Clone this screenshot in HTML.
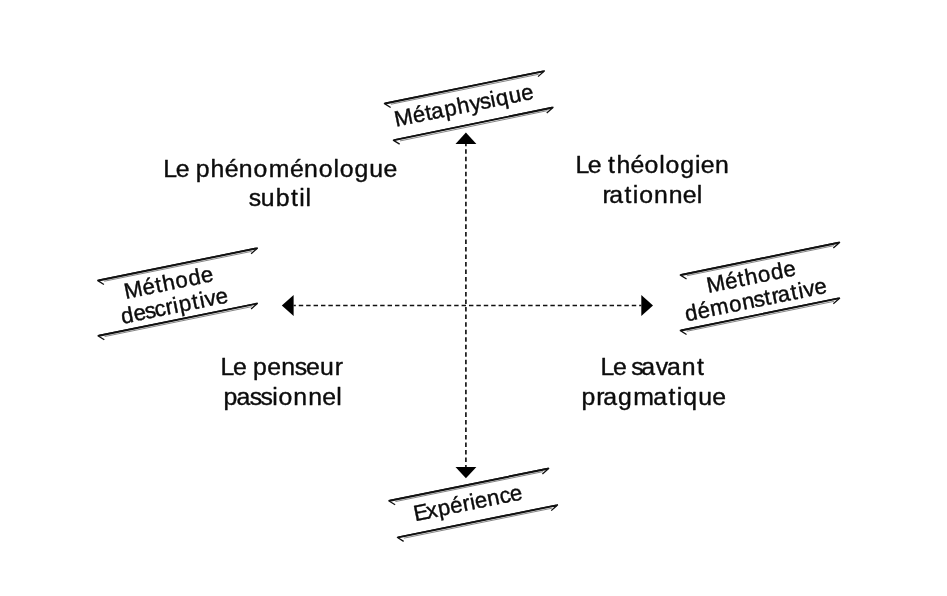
<!DOCTYPE html>
<html lang="fr">
<head>
<meta charset="utf-8">
<title>Diagramme</title>
<style>
html,body{margin:0;padding:0;background:#fff;}
body{width:947px;height:596px;overflow:hidden;}
svg{display:block;will-change:transform;filter:grayscale(1) blur(0.3px);}
text{font-family:"Liberation Sans",sans-serif;fill:#0c0c0c;stroke:#0c0c0c;stroke-width:0.4px;stroke-linejoin:round;}
</style>
</head>
<body>
<svg width="947" height="596" viewBox="0 0 947 596">
<rect width="947" height="596" fill="#ffffff"/>
<line x1="465.9" y1="143.9" x2="465.9" y2="467" stroke="#111" stroke-width="1.65" stroke-dasharray="4.51 3.01" stroke-dashoffset="2.25"/>
<line x1="293.6" y1="305.5" x2="641.3" y2="305.5" stroke="#111" stroke-width="1.65" stroke-dasharray="4.44 2.96" stroke-dashoffset="2.22"/>
<polygon points="465.9,132.4 455.5,143.9 476.4,143.9" fill="#000"/>
<polygon points="465.9,478.2 455.5,467 476.4,467" fill="#000"/>
<polygon points="281.8,305.5 293.6,294.9 293.6,316" fill="#000"/>
<polygon points="653,305.5 641.3,294.9 641.3,316" fill="#000"/>
<g><line x1="390.91" y1="104.26" x2="538.67" y2="74.25" stroke="#777" stroke-width="0.9"/><polyline points="390.64,107.48 384.1,103.4 544.6,70.8 538.03,76.62" fill="none" stroke="#111" stroke-width="1.3" stroke-linejoin="bevel"/><line x1="385.34" y1="103.46" x2="543.48" y2="71.33" stroke="#111" stroke-width="1.9"/></g>
<g><line x1="399.91" y1="140.95" x2="547.38" y2="110.66" stroke="#777" stroke-width="0.9"/><polyline points="399.65,144.17 393.1,140.1 553.3,107.2 546.74,113.04" fill="none" stroke="#111" stroke-width="1.3" stroke-linejoin="bevel"/><line x1="394.34" y1="140.15" x2="552.18" y2="107.74" stroke="#111" stroke-width="1.9"/></g>
<g><line x1="104.21" y1="281.26" x2="251.77" y2="251.35" stroke="#777" stroke-width="0.9"/><polyline points="103.94,284.48 97.4,280.4 257.7,247.9 251.13,253.72" fill="none" stroke="#111" stroke-width="1.3" stroke-linejoin="bevel"/><line x1="98.64" y1="280.46" x2="256.58" y2="248.43" stroke="#111" stroke-width="1.9"/></g>
<g><line x1="104.61" y1="336.56" x2="251.77" y2="306.65" stroke="#777" stroke-width="0.9"/><polyline points="104.34,339.78 97.8,335.7 257.7,303.2 251.13,309.03" fill="none" stroke="#111" stroke-width="1.3" stroke-linejoin="bevel"/><line x1="99.04" y1="335.75" x2="256.58" y2="303.73" stroke="#111" stroke-width="1.9"/></g>
<g><line x1="686.81" y1="275.75" x2="833.97" y2="245.66" stroke="#777" stroke-width="0.9"/><polyline points="686.55,278.97 680,274.9 839.9,242.2 833.34,248.03" fill="none" stroke="#111" stroke-width="1.3" stroke-linejoin="bevel"/><line x1="681.24" y1="274.95" x2="838.78" y2="242.73" stroke="#111" stroke-width="1.9"/></g>
<g><line x1="686.81" y1="331.26" x2="833.97" y2="301.35" stroke="#777" stroke-width="0.9"/><polyline points="686.54,334.48 680,330.4 839.9,297.9 833.33,303.73" fill="none" stroke="#111" stroke-width="1.3" stroke-linejoin="bevel"/><line x1="681.24" y1="330.45" x2="838.78" y2="298.43" stroke="#111" stroke-width="1.9"/></g>
<g><line x1="395.41" y1="501.57" x2="543.07" y2="471.65" stroke="#777" stroke-width="0.9"/><polyline points="395.14,504.78 388.6,500.7 549,468.2 542.43,474.02" fill="none" stroke="#111" stroke-width="1.3" stroke-linejoin="bevel"/><line x1="389.84" y1="500.76" x2="547.88" y2="468.73" stroke="#111" stroke-width="1.9"/></g>
<g><line x1="403.91" y1="538.17" x2="551.87" y2="508.24" stroke="#777" stroke-width="0.9"/><polyline points="403.64,541.38 397.1,537.3 557.8,504.8 551.22,510.62" fill="none" stroke="#111" stroke-width="1.3" stroke-linejoin="bevel"/><line x1="398.34" y1="537.36" x2="556.68" y2="505.33" stroke="#111" stroke-width="1.9"/></g>
<text x="163.23 175.67 189.25 195.77 210.61 224.75 238.86 253.6 268.66 289.92 304.03 318.77 333.39 339.75 354.47 369.34 383.44" y="176.9" font-size="24.8">Le phénoménologue</text>
<text x="248.75 260.63 275.78 290.94 299.35 305.62" y="206.4" font-size="24.8">subtil</text>
<text x="575.42 587.86 601.43 607.91 616.43 630.58 644.6 659.22 665.57 680.29 695.12 700.8 714.91" y="173.3" font-size="24.8">Le théologien</text>
<text x="602.5 609.32 624.43 632.83 639.15 653.91 668.74 682.85 696.82" y="203.1" font-size="24.8">rationnel</text>
<text x="220.45 232.88 246.46 252.98 267.14 281.24 294.67 305.93 319.94 334.74" y="375.3" font-size="24.8">Le penseur</text>
<text x="223.46 236.4 249.81 260.39 272.23 278.54 293.3 308.13 322.24 336.21" y="404.8" font-size="24.8">passionnel</text>
<text x="600.48 612.91 626.49 631.28 641.32 655.84 667.06 681.87 696.99" y="375.3" font-size="24.8">Le savant</text>
<text x="581.51 596.36 603.18 617.96 633.24 653.28 668.38 676.79 683.15 698.14 712.24" y="404.8" font-size="24.8">pragmatique</text>
<text transform="translate(465.3 112.65) rotate(-11.5)" x="-70.72 -52.14 -39.33 -33.47 -20.01 -6.82 6.01 16.34 26.88 32.51 45.83 58.37" y="0" font-size="22.2">Métaphysique</text>
<text transform="translate(170.1 289.9) rotate(-11.5)" x="-45.16 -26.58 -13.76 -6.21 6.92 20.01 32.8" y="0" font-size="22.2">Méthode</text>
<text transform="translate(175.5 313.1) rotate(-11.5)" x="-54.05 -41.27 -29.97 -19.91 -8.69 -1.02 4.93 18.43 25.91 31.31 42.36" y="0" font-size="22.2">descriptive</text>
<text transform="translate(752.6 284.1) rotate(-11.5)" x="-45.16 -26.58 -13.76 -6.21 6.92 20.01 32.8" y="0" font-size="22.2">Méthode</text>
<text transform="translate(756.8 307.1) rotate(-11.5)" x="-71.87 -59.08 -46.29 -26.81 -13.69 -1.75 9.17 16.75 22.79 36.24 43.72 49.12 60.17" y="0" font-size="22.2">démonstrative</text>
<text transform="translate(470.3 510) rotate(-11.5)" x="-56.11 -43.44 -31.67 -19.08 -6.55 1.11 6.14 18.68 31.27 41.86" y="0" font-size="22.2">Expérience</text>
</svg>
</body>
</html>
